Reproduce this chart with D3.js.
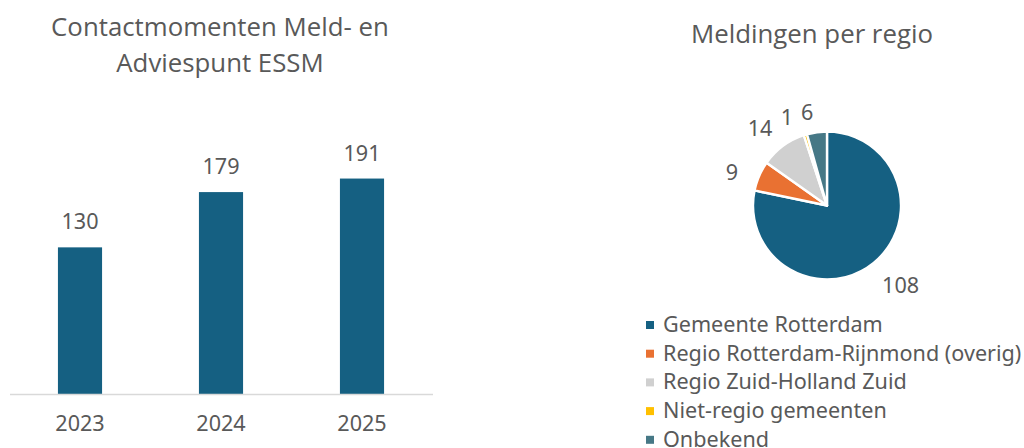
<html>
<head>
<meta charset="UTF-8"/>
<script src="https://d3js.org/d3.v7.min.js"></script>
<style>
body { margin: 0; background: #fff; }
text { fill: #595959; }
.title { font-family: 'Open Sans', sans-serif; font-size: 25.8px; }
.lbl { font-family: 'Noto Sans', sans-serif; font-size: 21.6px; }
</style>
</head>
<body>
<svg id='big' width=1024 height=448></svg>
<script>
'use strict';

// bar chart data
var years = ['2023', '2024', '2025'];
var contacts = [130, 179, 191];

// pie chart data
var regions = ['Gemeente Rotterdam', 'Regio Rotterdam-Rijnmond (overig)',
  'Regio Zuid-Holland Zuid', 'Niet-regio gemeenten', 'Onbekend'];
var reports = [108, 9, 14, 1, 6];
var regionColors = ['#156082', '#E97132', '#D0D0D0', '#FFC000', '#467886'];

var svg = d3.select('#big');

function drawBars(){
  var sx = d3.scaleBand().domain(years).range([9.5, 432.5]).paddingInner(0.687).paddingOuter(0.3435);
  var sy = d3.scaleLinear().domain([0, 250]).range([394, 112]);

  svg.append('text').attr('class', 'title')
    .attr('text-anchor', 'middle')
    .selectAll('tspan')
    .data(['Contactmomenten Meld- en', 'Adviespunt ESSM'])
    .enter().append('tspan')
    .attr('x', 220)
    .attr('y', function(d, i){ return 36 + i * 36; })
    .text(function(d){ return d; });

  svg.selectAll('.bar')
    .data(contacts)
    .enter().append('rect')
    .attr('class', 'bar')
    .attr('x', function(d, i){ return sx(years[i]); })
    .attr('width', sx.bandwidth())
    .attr('y', function(d){ return sy(d); })
    .attr('height', function(d){ return sy(0) - sy(d); })
    .attr('fill', '#156082');

  svg.selectAll('.barval')
    .data(contacts)
    .enter().append('text')
    .attr('class', 'lbl barval')
    .attr('text-anchor', 'middle')
    .attr('x', function(d, i){ return sx(years[i]) + sx.bandwidth() / 2; })
    .attr('y', function(d){ return sy(d) - 18; })
    .text(function(d){ return d; });

  var xAxis = d3.axisBottom(sx).tickSize(0).tickPadding(22);
  var g = svg.append('g').attr('transform', 'translate(0,394)').call(xAxis);
  g.select('.domain').attr('stroke', '#d9d9d9').attr('stroke-width', 1.5);
  g.selectAll('text').attr('class', 'lbl').attr('font-size', null).attr('font-family', null)
    .attr('fill', null).attr('dy', '0.71em');
}

function drawPie(){
  var cx = 827, cy = 205.5, r = 74;

  svg.append('text').attr('class', 'title')
    .attr('text-anchor', 'middle')
    .attr('x', 812).attr('y', 43)
    .text('Meldingen per regio');

  var pie = d3.pie().sort(null).value(function(d){ return d; });
  var arcs = pie(reports);
  var arc = d3.arc().innerRadius(0).outerRadius(r);

  var g = svg.append('g').attr('transform', 'translate(' + cx + ',' + cy + ')');
  g.selectAll('path')
    .data(arcs)
    .enter().append('path')
    .attr('d', arc)
    .attr('fill', function(d, i){ return regionColors[i]; })
    .attr('stroke', '#fff')
    .attr('stroke-width', 2.4)
    .attr('stroke-linejoin', 'round');

  g.selectAll('.pielbl')
    .data(arcs)
    .enter().append('text')
    .attr('class', 'lbl pielbl')
    .attr('text-anchor', 'middle')
    .attr('dominant-baseline', 'central')
    .text(function(d){ return d.data; })
    .attr('transform', function(d){
      var a = (d.startAngle + d.endAngle) / 2 - 0.07;
      var w = this.getComputedTextLength();
      var lr = r + 21 + 0.5 * Math.abs(Math.sin(a)) * w;
      if (d.data === 1) a -= 0.06;
      return 'translate(' + (Math.sin(a) * lr) + ',' + (-Math.cos(a) * lr) + ')';
    });

  var leg = svg.append('g').selectAll('g')
    .data(regions)
    .enter().append('g')
    .attr('transform', function(d, i){ return 'translate(646,' + (332 + i * 28.7) + ')'; });
  leg.append('rect')
    .attr('y', -11).attr('width', 8).attr('height', 8)
    .attr('fill', function(d, i){ return regionColors[i]; });
  leg.append('text')
    .attr('class', 'lbl')
    .attr('x', 17)
    .text(function(d){ return d; });
}

drawBars();
drawPie();
</script>
</body>
</html>
